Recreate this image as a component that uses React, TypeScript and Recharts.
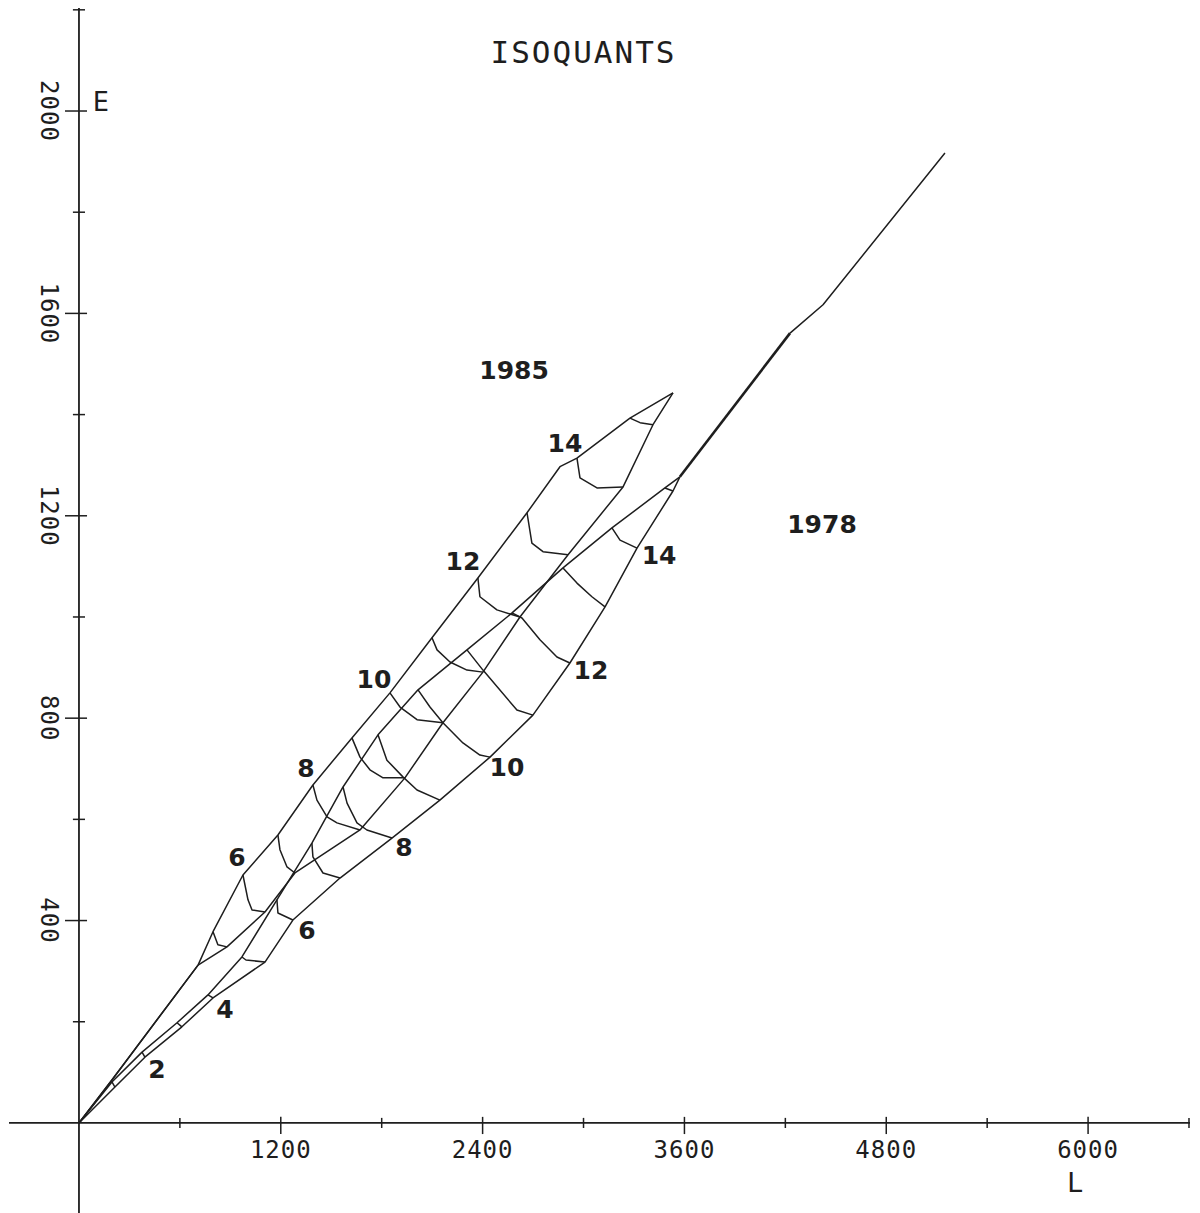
import React from 'react';
import { ComposedChart, Line, XAxis, YAxis, ReferenceLine, ReferenceDot } from 'recharts';

type P = { L: number; E: number };
const pts = (a: number[][]): P[] => a.map(([L, E]) => ({ L, E }));

// 1985 mesh boundaries
const upper1985 = pts([
  [0, 0], [196, 85], [708, 312], [797, 378], [975, 490], [1183, 569], [1391, 668], [1623, 761],
  [1849, 850], [2099, 959], [2372, 1077], [2664, 1206], [2860, 1297], [2961, 1314], [3276, 1393], [3532, 1443],
]);
const lower1985 = pts([
  [0, 0], [196, 85], [708, 312], [880, 348], [1106, 417], [1284, 494], [1671, 579], [1938, 682],
  [2164, 791], [2402, 891], [2622, 1000], [2908, 1123], [3235, 1257], [3413, 1380], [3532, 1443],
]);
// 1978 mesh boundaries
const upper1978 = pts([
  [0, 0], [196, 81], [375, 140], [583, 198], [767, 253], [969, 328], [1177, 441], [1385, 553],
  [1570, 664], [1778, 767], [2016, 856], [2307, 935], [2575, 1008], [2878, 1097], [3169, 1176],
  [3484, 1255], [3573, 1277],
]);
const lower1978 = pts([
  [0, 0], [214, 71], [392, 130], [612, 190], [797, 247], [1106, 318], [1272, 401], [1552, 484],
  [1861, 563], [2146, 638], [2444, 723], [2699, 806], [2919, 909], [3128, 1020], [3318, 1136],
  [3532, 1249], [3573, 1277],
]);
// expansion line beyond the 1978 tip
const tailBold = pts([[3573, 1277], [4228, 1561]]);
const tail = pts([[4228, 1561], [4424, 1617], [5149, 1917]]);

// isoquants 1985 (levels 5..15)
const iso1985: P[][] = [
  pts([[797, 378], [826, 352], [880, 348]]),
  pts([[975, 490], [1005, 441], [1029, 421], [1106, 417]]),
  pts([[1183, 569], [1195, 540], [1237, 506], [1284, 494]]),
  pts([[1391, 668], [1415, 638], [1475, 605], [1534, 593], [1671, 579]]),
  pts([[1623, 761], [1671, 723], [1730, 698], [1808, 682], [1938, 682]]),
  pts([[1849, 850], [1909, 822], [2010, 797], [2164, 791]]),
  pts([[2099, 959], [2129, 935], [2206, 911], [2307, 895], [2402, 891]]),
  pts([[2372, 1077], [2384, 1040], [2485, 1014], [2563, 1006], [2622, 1000]]),
  pts([[2664, 1206], [2693, 1146], [2759, 1129], [2908, 1123]]),
  pts([[2961, 1314], [2979, 1275], [3080, 1255], [3235, 1257]]),
  pts([[3276, 1393], [3336, 1384], [3413, 1380]]),
];
// isoquants 1978 (levels 1..15)
const iso1978: P[][] = [
  pts([[196, 81], [214, 71]]),
  pts([[375, 140], [392, 130]]),
  pts([[583, 198], [612, 190]]),
  pts([[767, 253], [797, 247]]),
  pts([[969, 328], [993, 322], [1106, 318]]),
  pts([[1177, 441], [1183, 415], [1272, 401]]),
  pts([[1385, 553], [1391, 526], [1451, 494], [1552, 484]]),
  pts([[1570, 664], [1594, 632], [1653, 593], [1712, 579], [1861, 563]]),
  pts([[1778, 767], [1831, 717], [1926, 684], [2010, 658], [2146, 638]]),
  pts([[2016, 856], [2087, 822], [2164, 791], [2283, 751], [2384, 727], [2444, 723]]),
  pts([[2307, 935], [2402, 895], [2604, 816], [2699, 806]]),
  pts([[2575, 1008], [2634, 998], [2741, 955], [2842, 921], [2919, 909]]),
  pts([[2878, 1097], [2961, 1067], [3050, 1040], [3128, 1020]]),
  pts([[3169, 1176], [3217, 1152], [3318, 1136]]),
  pts([[3484, 1255], [3532, 1249]]),
];

const thinSeries: P[][] = [upper1985, lower1985, upper1978, lower1978, tail, ...iso1985, ...iso1978];

const labels1985 = [
  { L: 939, E: 524, t: '6' }, { L: 1350, E: 701, t: '8' }, { L: 1754, E: 877, t: '10' },
  { L: 2283, E: 1109, t: '12' }, { L: 2890, E: 1342, t: '14' },
];
const labels1978 = [
  { L: 464, E: 105, t: '2' }, { L: 868, E: 225, t: '4' }, { L: 1356, E: 381, t: '6' },
  { L: 1932, E: 545, t: '8' }, { L: 2545, E: 703, t: '10' }, { L: 3044, E: 895, t: '12' },
  { L: 3449, E: 1122, t: '14' },
];
const yearLabels = [
  { L: 2587, E: 1488, t: '1985' }, { L: 4418, E: 1182, t: '1978' },
];

const xTicks = [600, 1200, 1800, 2400, 3000, 3600, 4200, 4800, 5400, 6000, 6600];
const xTickLabels = [1200, 2400, 3600, 4800, 6000];
const yTicks = [200, 400, 600, 800, 1000, 1200, 1400, 1600, 1800, 2000, 2200];
const yTickLabels = [400, 800, 1200, 1600, 2000];

const INK = '#1e1e1e';
const MONO = '"DejaVu Sans Mono", monospace';
const BOLD = '"DejaVu Sans", sans-serif';

const BoldText = (t: string) => (props: any) => (
  <text x={props.cx} y={props.cy} textAnchor="middle" dominantBaseline="central"
    fontFamily={BOLD} fontWeight="bold" fontSize={25} fill={INK}>{t}</text>
);

const XLabel = (t: number) => (props: any) => (
  <text x={props.cx} y={props.cy + 35} textAnchor="middle" fontFamily={MONO} fontSize={24}
    letterSpacing={1} fill={INK}>{String(t)}</text>
);

const YLabel = (t: number) => (props: any) => {
  const x = props.cx - 30;
  const y = props.cy;
  return (
    <text x={x} y={y} transform={`rotate(90, ${x}, ${y})`} textAnchor="middle" dominantBaseline="central"
      fontFamily={MONO} fontSize={24} letterSpacing={1} fill={INK}>{String(t)}</text>
  );
};

const Free = (t: string, dx: number, dy: number, size: number, spacing: number) => (props: any) => (
  <text x={props.cx + dx} y={props.cy + dy} textAnchor="middle" fontFamily={MONO} fontSize={size}
    letterSpacing={spacing} fill={INK}>{t}</text>
);

export default function App() {
  return (
    <div style={{ position: 'absolute', left: 0, top: 0, width: 1200, height: 1213, background: '#fff' }}>
      <ComposedChart width={1200} height={1213} margin={{ top: 8, right: 10, bottom: 0, left: 9 }}>
        <XAxis type="number" dataKey="L" domain={[-416, 6606]} allowDataOverflow hide />
        <YAxis type="number" dataKey="E" domain={[-178, 2203.6]} allowDataOverflow hide />
        <ReferenceLine y={0} stroke={INK} strokeWidth={1.8} />
        <ReferenceLine x={0} stroke={INK} strokeWidth={1.8} />
        {xTicks.map((t) => {
          const major = xTickLabels.includes(t);
          return (
            <ReferenceLine key={'xt' + t} segment={[{ x: t, y: major ? -22 : -10 }, { x: t, y: major ? 12 : 10 }]}
              stroke={INK} strokeWidth={1.5} />
          );
        })}
        {yTicks.map((t) => {
          const major = yTickLabels.includes(t);
          return (
            <ReferenceLine key={'yt' + t} segment={[{ x: major ? -83 : -36, y: t }, { x: major ? 48 : 36, y: t }]}
              stroke={INK} strokeWidth={1.5} />
          );
        })}
        {xTickLabels.map((t) => (
          <ReferenceDot key={'xl' + t} x={t} y={0} r={0} shape={XLabel(t)} />
        ))}
        {yTickLabels.map((t) => (
          <ReferenceDot key={'yl' + t} x={0} y={t} r={0} shape={YLabel(t)} />
        ))}
        {thinSeries.map((d, i) => (
          <Line key={'s' + i} data={d} dataKey="E" type="linear" stroke={INK} strokeWidth={1.5}
            strokeLinejoin="round" dot={false} activeDot={false} isAnimationActive={false} />
        ))}
        <Line data={tailBold} dataKey="E" type="linear" stroke={INK} strokeWidth={2.6}
          dot={false} activeDot={false} isAnimationActive={false} />
        {[...labels1985, ...labels1978, ...yearLabels].map((l, i) => (
          <ReferenceDot key={'lb' + i} x={l.L} y={l.E} r={0} shape={BoldText(l.t)} />
        ))}
        <ReferenceDot x={0} y={2000} r={0} shape={Free('E', 22, 0, 27, 0)} />
        <ReferenceDot x={6000} y={0} r={0} shape={Free('L', -13, 69, 27, 0)} />
        <ReferenceDot x={3000} y={2000} r={0} shape={Free('ISOQUANTS', 0, -48, 31, 2)} />
      </ComposedChart>
    </div>
  );
}
